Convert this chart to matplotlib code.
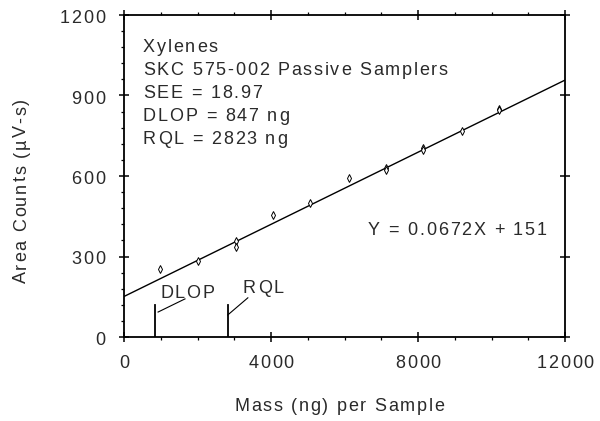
import matplotlib.pyplot as plt
import numpy as np
from matplotlib.font_manager import FontProperties
from matplotlib.textpath import text_to_path

plt.rcParams['font.family'] = ['Liberation Sans', 'DejaVu Sans']

# calibration standards: mass (ng) per sample vs. area counts
mass = [980, 2010, 3050, 3050, 4050, 5060, 6120, 7130, 7130, 8140, 8140, 9200, 10200, 10200]
counts = [254, 284, 357, 337, 456, 501, 594, 628, 622, 703, 698, 766, 849, 846]

slope = 0.0672
intercept = 151
dlop = 847
rql = 2823

xticks = [0, 4000, 8000, 12000]
yticks = [0, 300, 600, 900, 1200]

info = ['Xylenes', 'SKC 575-002 Passive Samplers', 'SEE = 18.97',
        'DLOP = 847 ng', 'RQL = 2823 ng']
equation = 'Y = 0.0672X + 151'

W, H = 600, 421
FS = 13
TXT = '#2a2a2a'
PT = 0.72  # points per pixel at 100 dpi


def advance(ch, prop):
    # glyph advance in points, measured between two H's so blanks count
    w2 = text_to_path.get_text_width_height_descent('H' + ch + 'H', prop, ismath=False)[0]
    w1 = text_to_path.get_text_width_height_descent('HH', prop, ismath=False)[0]
    return w2 - w1


def spaced_text(x, y, s, coords, size=FS, track=1.25, rotation=0,
                ha='left', dx=0.0, dy=0.0):
    # draw s letter by letter with extra tracking (points), anchored at baseline
    prop = FontProperties(family='Liberation Sans', size=size)
    widths = [advance(ch, prop) for ch in s]
    total = sum(widths) + track * (len(s) - 1)
    off = {'left': 0.0, 'center': -total / 2, 'right': -total}[ha]
    ang = np.deg2rad(rotation)
    for ch, w in zip(s, widths):
        if ch != ' ':
            ax.annotate(ch, xy=(x, y), xycoords=coords,
                        xytext=(dx + off * np.cos(ang), dy + off * np.sin(ang)),
                        textcoords='offset points', fontproperties=prop,
                        ha='left', va='baseline', rotation=rotation,
                        rotation_mode='anchor', color=TXT,
                        annotation_clip=False)
        off += w + track


def fx(px):
    return px / W


def fy(py):
    return 1 - py / H


fig = plt.figure(figsize=(W / 100, H / 100), dpi=100)
ax = fig.add_axes([fx(124), fy(337), (565 - 124) / W, (337 - 15) / H])

# regression line and standards
xl = np.array([0, 12000])
ax.plot(xl, slope * xl + intercept, color='black', lw=1)
ax.plot(mass, counts, linestyle='none', marker='d', ms=4, mfc='white',
        mec='black', mew=0.7)

# detection / quantitation markers
ax.plot([dlop, dlop], [0, 120], color='black', lw=1.3)
ax.plot([dlop + 80, 1660], [93, 142], color='black', lw=0.8)
ax.plot([rql, rql], [0, 120], color='black', lw=1.3)
ax.plot([rql, 3370], [82, 146], color='black', lw=0.8)
spaced_text(980, 146, 'DLOP', 'data')
spaced_text(3238, 165, 'RQL', 'data')
spaced_text(6640, 381, equation, 'data')

for i, line in enumerate(info):
    spaced_text(fx(143), fy(51.7 + 23 * i), line, 'figure fraction')

ax.set_xlim(0, 12000)
ax.set_ylim(0, 1200)
ax.set_xticks(xticks)
ax.set_xticks(np.arange(0, 12001, 1000), minor=True)
ax.set_yticks(yticks)
ax.set_yticks(np.arange(0, 1201, 60), minor=True)
ax.set_xticklabels([])
ax.set_yticklabels([])
ax.tick_params(which='major', direction='inout', length=7.2, width=1.1,
               top=True, right=True)
ax.tick_params(which='minor', direction='out', length=2.5, width=0.9,
               top=True, right=False)
for s in ax.spines.values():
    s.set_linewidth(1.3)

# tick labels, letter-spaced like the rest of the text
for v in xticks:
    spaced_text(v, 0, str(v), 'data', ha='center', dy=-31 * PT)
for v in yticks:
    spaced_text(0, v, str(v), 'data', ha='right', dx=-19 * PT, dy=-8 * PT)

# axis titles
spaced_text(fx(234), fy(411), 'Mass (ng) per Sample', 'figure fraction')
spaced_text(fx(26), fy(283), 'Area Counts (µV-s)', 'figure fraction',
            rotation=90)

fig.savefig('out.png', dpi=100)
